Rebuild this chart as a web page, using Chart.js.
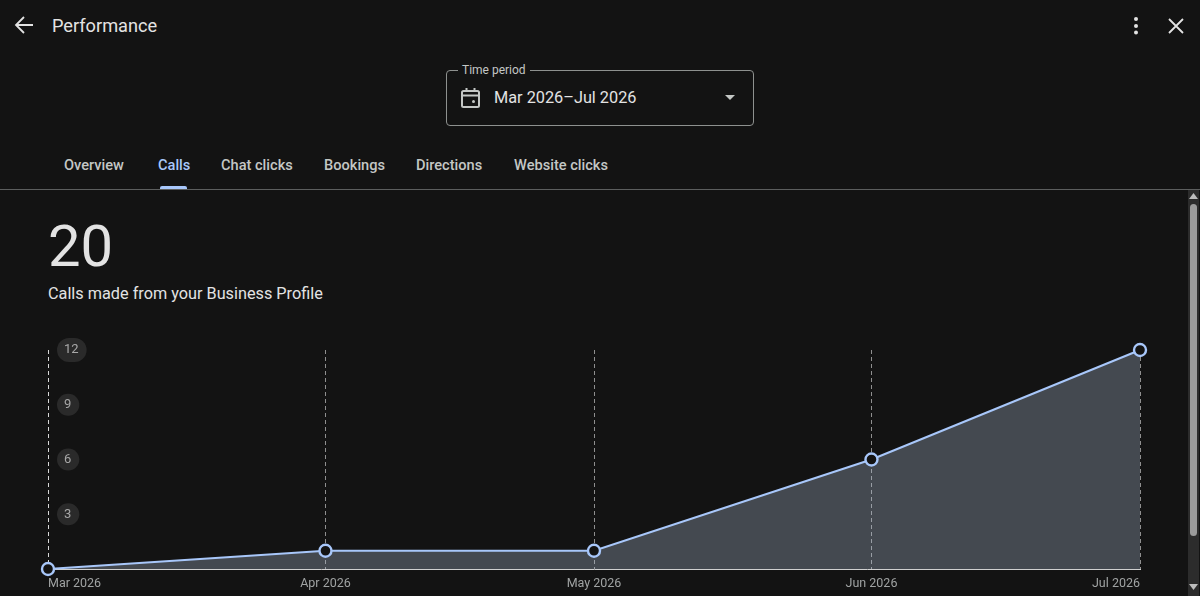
<!DOCTYPE html>
<html>
<head>
<meta charset="utf-8">
<title>Performance</title>
<script src="https://cdn.jsdelivr.net/npm/chart.js@4"></script>
<style>
  html, body { margin: 0; height: 100%; overflow: hidden; background: #131313; font-family: Roboto, sans-serif; }
  .abs { position: absolute; white-space: nowrap; line-height: 1; }
  #perfChart { position: absolute; left: 0; top: 330px; }
  .field { position: absolute; left: 446px; top: 70px; width: 306px; height: 54px; border: 1px solid #8e918f; border-radius: 4px; }
  .tab { position: absolute; top: 157px; font-size: 14.600px; line-height: 16px; color: #c4c7c5; font-weight: 500; white-space: nowrap; }
  .scrollbar { position: absolute; left: 1188px; top: 190px; width: 11px; height: 406px; background: #2c2c2c; }
  .thumb { position: absolute; left: 2px; top: 14px; width: 7px; height: 332px; border-radius: 4px; background: #9b9b9b; }
</style>
</head>
<body>

<svg class="abs" style="left:14px;top:15px" width="20" height="20" viewBox="0 0 20 20" fill="none" stroke="#e3e3e3" stroke-width="1.800">
  <path d="M19 10H2M10 2L2 10l8 8"/>
</svg>
<div class="abs" style="left:52px;top:17px;font-size:18.200px;color:#e3e3e3">Performance</div>

<svg class="abs" style="left:1130px;top:16px" width="12" height="20" viewBox="0 0 12 20" fill="#e3e3e3">
  <circle cx="6" cy="3" r="2"/><circle cx="6" cy="10" r="2"/><circle cx="6" cy="16.500" r="2"/>
</svg>
<svg class="abs" style="left:1167px;top:17px" width="18" height="18" viewBox="0 0 18 18" stroke="#e3e3e3" stroke-width="1.800">
  <path d="M2 2L16 16M16 2L2 16"/>
</svg>

<div class="field"></div>
<div class="abs" style="left:458px;top:63px;padding:0 4px;background:#131313;font-size:12px;line-height:14px;color:#c4c7c5">Time period</div>
<svg class="abs" style="left:460px;top:87px" width="22" height="22" viewBox="0 0 22 22" fill="none" stroke="#c4c7c5" stroke-width="2">
  <rect x="2" y="4" width="17" height="16" rx="1.500"/>
  <path d="M2 8.500H19M6.500 1V4M14.500 1V4"/>
  <circle cx="13.500" cy="14.500" r="1.500" fill="#c4c7c5" stroke="none"/>
</svg>
<div class="abs" style="left:494px;top:90px;font-size:16.300px;color:#e3e3e3">Mar 2026–Jul 2026</div>
<svg class="abs" style="left:724px;top:94px" width="12" height="7" viewBox="0 0 12 7" fill="#c4c7c5"><path d="M1 1H11L6 6Z"/></svg>

<div class="tab" style="left:64px">Overview</div>
<div class="tab" style="left:158px;color:#a8c7fa">Calls</div>
<div class="tab" style="left:221px">Chat clicks</div>
<div class="tab" style="left:324px">Bookings</div>
<div class="tab" style="left:416px">Directions</div>
<div class="tab" style="left:514px">Website clicks</div>
<div class="abs" style="left:0;top:189px;width:1200px;height:1px;background:#5c5e5e"></div>
<div class="abs" style="left:160px;top:186px;width:27px;height:3px;border-radius:2px 2px 0 0;background:#a8c7fa"></div>

<div class="scrollbar">
  <svg class="abs" style="left:1px;top:3px" width="9" height="6" viewBox="0 0 9 6" fill="#bdbdbd"><path d="M0 6L4.500 0L9 6Z"/></svg>
  <div class="thumb"></div>
  <svg class="abs" style="left:1px;top:394px" width="9" height="6" viewBox="0 0 9 6" fill="#bdbdbd"><path d="M0 0L4.500 6L9 0Z"/></svg>
</div>

<div class="abs" style="left:48px;top:217px;font-size:58px;color:#e3e3e3">20</div>
<div class="abs" style="left:48px;top:286px;font-size:16.250px;color:#e3e3e3">Calls made from your Business Profile</div>

<canvas id="perfChart" width="1185" height="268"></canvas>

<script>
  // days since 1 Mar, the axis is proportional to real dates
  const dayOffsets = [0, 31, 61, 92, 122];
  const calls = [0, 1, 1, 6, 12];
  const monthLabels = ['Mar 2026', 'Apr 2026', 'May 2026', 'Jun 2026', 'Jul 2026'];
  const yTicks = [0, 3, 6, 9, 12];

  // grey pills behind the y tick labels
  const tickPills = {
    id: 'tickPills',
    beforeDraw(chart) {
      const { ctx, scales: { y } } = chart;
      ctx.save();
      ctx.font = '13px Roboto';
      ctx.fillStyle = '#2a2a2a';
      yTicks.filter(v => v > 0).forEach(v => {
        const w = Math.max(22, ctx.measureText(String(v)).width + 15);
        ctx.beginPath();
        ctx.roundRect(57, y.getPixelForValue(v) - 12 + (v === 12 ? 0 : 1), w, v === 12 ? 24 : 22, 12);
        ctx.fill();
      });
      ctx.restore();
    }
  };

  new Chart(document.getElementById('perfChart'), {
    type: 'line',
    data: {
      datasets: [{
        data: dayOffsets.map((d, i) => ({ x: d, y: calls[i] })),
        borderColor: '#a8c7fa',
        borderWidth: 2.200,
        backgroundColor: 'rgba(170,185,205,.33)',
        fill: 'origin',
        tension: 0,
        clip: false,
        pointRadius: 6,
        pointBorderWidth: 2.400,
        pointBorderColor: '#a8c7fa',
        pointBackgroundColor: '#131313',
      }]
    },
    plugins: [tickPills],
    options: {
      responsive: false,
      devicePixelRatio: 1,
      animation: false,
      layout: { padding: { left: 48, right: 45, top: 20, bottom: 0 } },
      plugins: { legend: { display: false }, tooltip: { enabled: false } },
      scales: {
        x: {
          type: 'linear',
          min: dayOffsets[0],
          max: dayOffsets[dayOffsets.length - 1],
          afterBuildTicks: s => { s.ticks = dayOffsets.map(v => ({ value: v })); },
          border: { color: '#d0d0d0', width: 1, dash: [4, 3] },
          grid: {
            drawTicks: false,
            color: c => c.index === 0 ? '#d8d8d8' : '#8f8f8f',
          },
          ticks: {
            color: '#a0a3a3',
            font: { family: 'Roboto', size: 12.500 },
            padding: 7,
            align: 'inner',
            autoSkip: false,
            maxRotation: 0,
            callback: (v, i) => monthLabels[i],
          },
        },
        y: {
          min: 0,
          max: 12,
          afterBuildTicks: s => { s.ticks = yTicks.map(v => ({ value: v })); },
          afterFit: s => { s.width = 0; s.paddingTop = 0; s.paddingBottom = 0; },
          border: { display: false },
          grid: { display: false, drawTicks: false },
          ticks: {
            mirror: true,
            padding: 16,
            color: '#a8a8a8',
            font: { family: 'Roboto', size: 13 },
            callback: v => v === 0 ? '' : v,
          },
        },
      },
    },
  });
</script>
</body>
</html>
